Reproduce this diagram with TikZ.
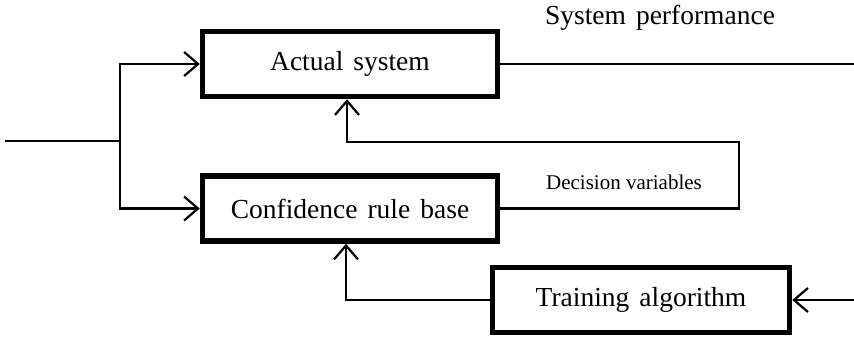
\documentclass[tikz,border=0pt]{standalone}
\usepackage{fontspec}
\setmainfont{Liberation Serif}
\usetikzlibrary{arrows.meta}
\newcommand{\blkfont}{\fontsize{27.5}{30}\selectfont\spaceskip=10pt\relax}

\begin{document}
\begin{tikzpicture}[x=1pt,y=-1pt,
	blk/.style={draw,line width=5.5pt,minimum width=295pt,minimum height=65pt,font=\blkfont},
	wire/.style={line width=2.2pt},
	arr/.style={wire,-{Straight Barb[length=14pt,width=24pt,line width=2.2pt]}}]
		\useasboundingbox (0,0) rectangle (854,340);
		% blocks
		\node[blk] (act) at (350,64) {Actual system};
		\node[blk] (crb) at (350,208.5) {Confidence rule base};
		\node[blk,minimum width=297pt] (train) at (641,300) {Training algorithm};
		% input split
		\coordinate (in) at (5,141);
		\coordinate (split) at (120,141);
		\draw[wire] (in) -- (split);
		\draw[arr] (split) |- (act.west);
		\draw[arr] (split) |- (crb.west);
		% output
		\coordinate (out) at (854,64);
		\draw[wire] (act.east) -- (out);
		\node[font=\blkfont] (perf) at (660,18) {System performance};
		% decision loop
		\coordinate (dv) at (739,142);
		\draw[arr] (crb.east) -| (dv) -| ([xshift=-3pt]act.south);
		\node[font=\fontsize{21}{24}\selectfont] (dvlab) at (624,182) {Decision variables};
		% training
		\draw[arr] (train.west) -| ([xshift=-4pt]crb.south);
		\coordinate (tin) at (854,300);
		\draw[arr] (tin) -- (train.east);
\end{tikzpicture}
\end{document}
